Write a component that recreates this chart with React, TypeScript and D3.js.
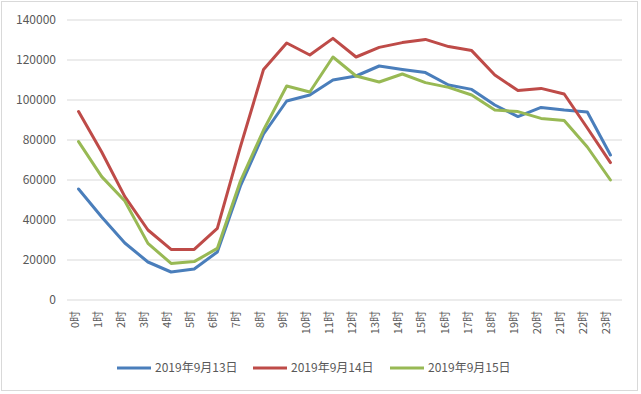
import React from "react";
import * as d3 from "d3";

const hours = Array.from({ length: 24 }, (_, i) => `${i}时`);
const seriesNames = ["2019年9月13日", "2019年9月14日", "2019年9月15日"];
const sep13 = [55500, 41500, 28500, 19000, 14000, 15500, 24000, 57000, 83000, 99500, 102500, 110000, 112000, 117000, 115300, 113700, 107500, 105300, 97500, 91700, 96300, 95000, 94000, 72500];
const sep14 = [94200, 74000, 51700, 35000, 25300, 25300, 35800, 76700, 115300, 128500, 122500, 130800, 121500, 126300, 128700, 130300, 126700, 124700, 112500, 104700, 105800, 103000, 86000, 68700];
const sep15 = [79200, 61700, 49500, 28300, 18300, 19200, 25800, 59500, 85000, 107000, 104000, 121500, 112000, 109000, 113000, 108700, 106300, 102500, 95000, 94200, 90800, 89700, 76500, 60000];
const yTicks = [0, 20000, 40000, 60000, 80000, 100000, 120000, 140000];
const colors = ["#4a7ebb", "#be4b48", "#98b954"];

export default function App() {
  const W = 641, H = 394;
  const x = d3.scaleBand().domain(hours).range([67, 622]);
  const y = d3.scaleLinear().domain([0, 140000]).range([300, 20]);
  const line = d3.line<number>().x((_, i) => (x(hours[i]) as number) + x.bandwidth() / 2).y((d) => y(d));
  const data = [sep13, sep14, sep15];
  const legendX = [117, 253, 390];
  const textColor = "#595959";
  const font = "'Microsoft YaHei', 'Noto Sans CJK SC', sans-serif";
  return (
    <svg width={W} height={H} style={{ position: "absolute", left: 0, top: 0, background: "#fff" }} fontFamily={font}>
      <rect x={1.5} y={1.5} width={636} height={389} fill="#fff" stroke="#d9d9d9" />
      {yTicks.map((t) => (
        <g key={t}>
          <line x1={67} x2={622} y1={y(t)} y2={y(t)} stroke="#d9d9d9" strokeWidth={1} />
          <text x={56} y={y(t)} dy="0.35em" textAnchor="end" fontSize={12} fill={textColor}>{t}</text>
        </g>
      ))}
      {hours.map((h) => (
        <text key={h} transform={`translate(${(x(h) as number) + x.bandwidth() / 2},${311}) rotate(-90)`} textAnchor="end" fontSize={11} fill={textColor}>{h}</text>
      ))}
      {data.map((s, i) => (
        <path key={i} d={line(s) as string} fill="none" stroke={colors[i]} strokeWidth={3} strokeLinejoin="round" strokeLinecap="round" />
      ))}
      {seriesNames.map((n, i) => (
        <g key={n}>
          <line x1={legendX[i]} x2={legendX[i] + 34} y1={368} y2={368} stroke={colors[i]} strokeWidth={3} />
          <text x={legendX[i] + 38} y={368} dy="0.35em" fontSize={12} fill={textColor}>{n}</text>
        </g>
      ))}
    </svg>
  );
}
